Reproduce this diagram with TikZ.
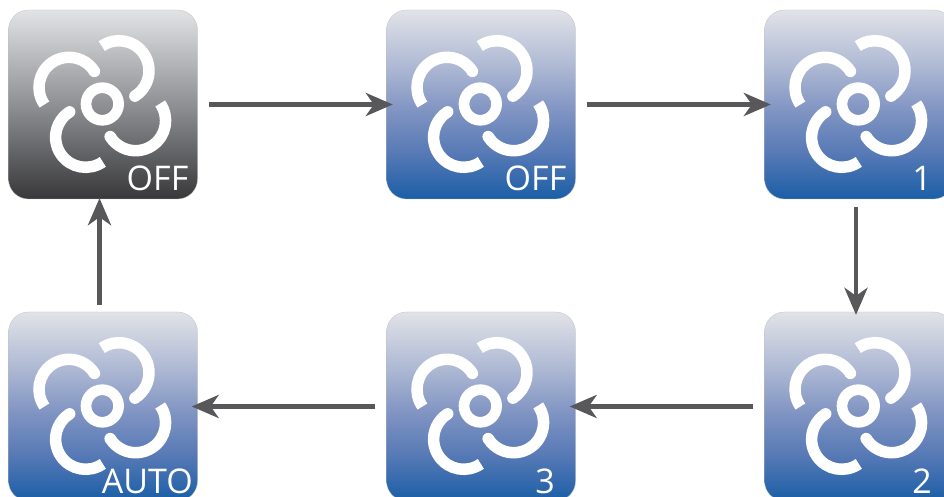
\documentclass[tikz,border=0pt]{standalone}
\usepackage{fontspec}
\setmainfont{Open Sans}
\usetikzlibrary{arrows.meta}
\definecolor{arrowgray}{HTML}{58585A}
\definecolor{bluetop}{HTML}{E2E3E8}
\definecolor{blueup}{HTML}{ADB8D3}
\definecolor{bluemid}{HTML}{7F93C2}
\definecolor{bluelow}{HTML}{5679B5}
\definecolor{bluebot}{HTML}{1A5EA6}
\definecolor{graytop}{HTML}{E2E3E5}
\definecolor{graymid}{HTML}{8E9093}
\definecolor{graybot}{HTML}{38383A}
\pgfdeclareverticalshading{fanblue}{100bp}{
  color(0bp)=(bluebot); color(25bp)=(bluebot); color(37bp)=(bluelow); color(48bp)=(bluemid);
  color(60bp)=(blueup); color(75bp)=(bluetop); color(100bp)=(bluetop)}
\pgfdeclareverticalshading{fangray}{100bp}{
  color(0bp)=(graybot); color(25bp)=(graybot); color(50bp)=(graymid);
  color(75bp)=(graytop); color(100bp)=(graytop)}
\tikzset{
  fanbox/.style={minimum size=189pt,inner sep=0pt,rounded corners=20pt,draw=black!25,line width=0.3pt},
  bluebox/.style={fanbox,shading=fanblue},
  graybox/.style={fanbox,shading=fangray},
  fanlabel/.style={text=white,font=\fontsize{34}{34}\selectfont,inner sep=0pt,anchor=base east},
  flow/.style={draw=arrowgray,line width=4.5pt,-{Stealth[length=27pt,width=23pt,inset=8pt]}},
  pics/fan/.style={code={
    \draw[white,line width=10.7pt] (0,0) circle (16.3pt);
    \foreach \r in {0,90,180,270}{
      \draw[white,line width=11.5pt,rotate=\r]
        (16.7pt,33.3pt) ++(125:30pt) arc (125:-58:30pt);
      \fill[white,rotate=\r] (16.7pt,33.3pt) ++(-58:30pt) circle (5.75pt);
    }
  }}
}
\begin{document}
\begin{tikzpicture}[x=1pt,y=1pt]
  \useasboundingbox (0,0) rectangle (944,497);
  % top row
  \node[graybox] (offgray) at (103,392.5) {};
  \node[bluebox] (offblue) at (481,392.5) {};
  \node[bluebox] (one) at (859,392.5) {};
  % bottom row
  \node[bluebox] (autofan) at (103,90.5) {};
  \node[bluebox] (three) at (481,90.5) {};
  \node[bluebox] (two) at (859,90.5) {};
  % fans
  \pic at (102.3,393) {fan};
  \pic at (480.3,393) {fan};
  \pic at (858.3,393) {fan};
  \pic at (102.3,91) {fan};
  \pic at (480.3,91) {fan};
  \pic at (858.3,91) {fan};
  % labels
  \node[fanlabel] (labela) at (188.5,306.3) {OFF};
  \node[fanlabel] (labelb) at (566.5,306.3) {OFF};
  \node[fanlabel] (labelc) at (932,306.3) {1};
  \node[fanlabel] (labeld) at (193,3.5) {AUTO};
  \node[fanlabel] (labele) at (555,3.5) {3};
  \node[fanlabel] (labelf) at (932,3.5) {2};
  % arrows
  \draw[flow,shorten <=11.5pt,shorten >=-6.5pt] (offgray) -- (offblue);
  \draw[flow,shorten <=11.5pt,shorten >=-6.5pt] (offblue) -- (one);
  \draw[flow,shorten <=8pt,shorten >=-3pt] ([xshift=-3pt]one.south) -- ([xshift=-3pt]two.north);
  \draw[flow,shorten <=11pt,shorten >=-6pt] (two) -- (three);
  \draw[flow,shorten <=11pt,shorten >=-6pt] (three) -- (autofan);
  \draw[flow,shorten <=7pt,shorten >=-1pt] ([xshift=-3.5pt]autofan.north) -- ([xshift=-3.5pt]offgray.south);
\end{tikzpicture}
\end{document}
